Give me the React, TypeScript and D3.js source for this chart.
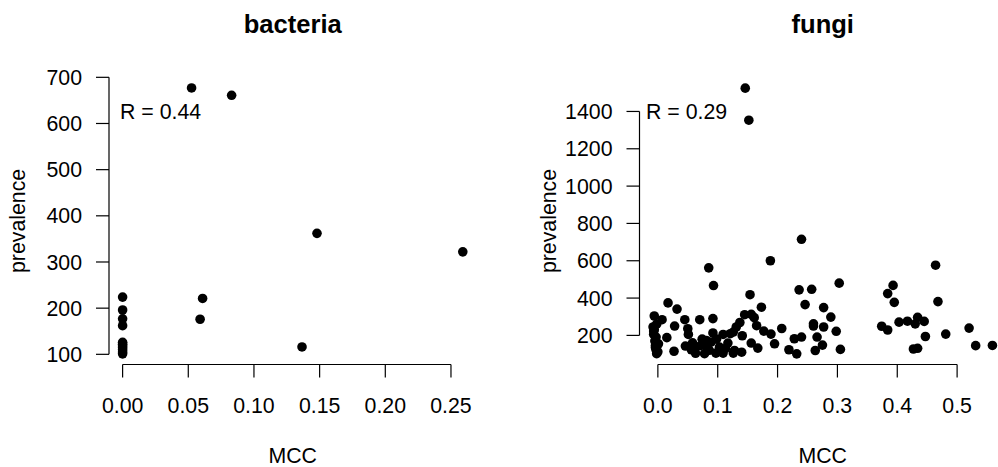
import React from "react";
import * as d3 from "d3";

// ---------- data ----------
const bacteriaMCC = [0, 0, 0, 0, 0, 0, 0, 0, 0, 0, 0, 0.0525, 0.083, 0.148, 0.0609, 0.059, 0.1366, 0.259];
const bacteriaPrev = [224, 196, 177, 162, 126, 122, 118, 114, 110, 105, 101, 677, 661, 362, 221, 176, 116, 322];

const fungiMCC = [
  0.146, 0.152, 0.240, 0.188, 0.085, 0.093, 0.464, 0.303, 0.393, 0.384, 0.395, 0.468, 0.236, 0.257, 0.154, 0.246,
  0.173, 0.277, 0.017, 0.032, 0.289, 0.145, 0.156, 0.161,
  0.260, 0.260, 0.277, 0.207, 0.165, 0.137, 0.131, 0.126, 0.109, 0.121, 0.141, 0.177, 0.189, 0.298, 0.195, 0.156,
  0.167, 0.219, 0.232, 0.228, 0.240, 0.266, 0.275, 0.263, 0.305,
  0.374, 0.384, 0.403, 0.417, 0.430, 0.434, 0.445, 0.447, 0.427, 0.434, 0.481, 0.520, 0.531, 0.559,
  -0.006, 0.007, -0.008, -0.007, -0.007, -0.003, -0.004, -0.003, -0.002, -0.005, -0.004, 0.000, 0.015, 0.028,
  0.027, 0.045, 0.050, 0.051, 0.046, 0.056, 0.063, 0.070, 0.074, 0.072, 0.078, 0.081, 0.092, 0.092, 0.089, 0.097,
  0.109, 0.117, 0.126, 0.140, 0.128, 0.103, 0.081, 0.064, 0.098, 0.086, 0.113, 0.058, -0.006, -0.002, 0.001,
];
const fungiPrev = [
  1525, 1353, 715, 600, 562, 467, 576, 480, 468, 424, 377, 381, 444, 447, 418, 365,
  351, 349, 374, 341, 298, 311, 313, 295,
  262, 250, 245, 237, 252, 269, 245, 218, 205, 209, 198, 223, 207, 222, 155, 159,
  132, 123, 101, 182, 191, 191, 148, 119, 125,
  249, 229, 271, 276, 262, 297, 275, 194, 127, 131, 207, 239, 145, 146,
  304, 284, 245, 223, 205, 191, 146, 123, 102, 170, 135, 112, 188, 250,
  115, 284, 236, 205, 143, 123, 104, 284, 180, 146, 102, 141, 290, 213, 164, 105,
  105, 159, 105, 110, 119, 137, 173, 137, 180, 120, 130, 160, 230, 260, 155,
];

const bacteriaXTicks = [0, 0.05, 0.1, 0.15, 0.2, 0.25];
const bacteriaYTicks = [100, 200, 300, 400, 500, 600, 700];
const fungiXTicks = [0, 0.1, 0.2, 0.3, 0.4, 0.5];
const fungiYTicks = [200, 400, 600, 800, 1000, 1200, 1400];

const titles = ["bacteria", "fungi"];
const rLabels = ["R = 0.44", "R = 0.29"];
const xLabel = "MCC";
const yLabel = "prevalence";

// ---------- layout ----------
const W = 998;
const H = 467;
const FONT = "'Liberation Sans', Arial, Helvetica, sans-serif";
const FS = 21.3;
const TICK = 13;

// R style 4% padded domain
function rDomain(vals: number[]): [number, number] {
  const [lo, hi] = d3.extent(vals) as [number, number];
  const pad = (hi - lo) * 0.04;
  return [lo - pad, hi + pad];
}

type PanelProps = {
  title: string;
  xs: number[];
  ys: number[];
  xTicks: number[];
  yTicks: number[];
  xFmt: string;
  rLabel: string;
  rx: number;
  left: number;
  right: number;
  top: number;
  bottom: number;
};

function Panel(p: PanelProps) {
  const x = d3.scaleLinear().domain(rDomain(p.xs)).range([p.left, p.right]);
  const y = d3.scaleLinear().domain(rDomain(p.ys)).range([p.bottom, p.top]);
  const fmt = d3.format(p.xFmt);
  const cx = (p.left + p.right) / 2;
  const cy = (p.top + p.bottom) / 2;
  const x0 = x(p.xTicks[0]);
  const x1 = x(p.xTicks[p.xTicks.length - 1]);
  const y0 = y(p.yTicks[0]);
  const y1 = y(p.yTicks[p.yTicks.length - 1]);
  return (
    <g fontFamily={FONT} fill="#000">
      <text x={cx} y={33.3} textAnchor="middle" fontWeight="bold" fontSize={FS * 1.2}>
        {p.title}
      </text>
      {/* x axis */}
      <line x1={x0} x2={x1} y1={p.bottom} y2={p.bottom} stroke="#000" strokeWidth={1.2} />
      {p.xTicks.map((t) => (
        <g key={"x" + t}>
          <line x1={x(t)} x2={x(t)} y1={p.bottom} y2={p.bottom + TICK} stroke="#000" strokeWidth={1.2} />
          <text x={x(t)} y={413} textAnchor="middle" fontSize={FS}>
            {fmt(t)}
          </text>
        </g>
      ))}
      {/* y axis */}
      <line x1={p.left} x2={p.left} y1={y0} y2={y1} stroke="#000" strokeWidth={1.2} />
      {p.yTicks.map((t) => (
        <g key={"y" + t}>
          <line x1={p.left - TICK} x2={p.left} y1={y(t)} y2={y(t)} stroke="#000" strokeWidth={1.2} />
          <text x={p.left - 27} y={y(t) + FS * 0.36} textAnchor="end" fontSize={FS}>
            {t}
          </text>
        </g>
      ))}
      <text x={cx} y={462.5} textAnchor="middle" fontSize={FS}>
        {xLabel}
      </text>
      <text
        transform={`translate(${p.left - 84},${cy}) rotate(-90)`}
        textAnchor="middle"
        fontSize={FS}
      >
        {yLabel}
      </text>
      <text x={p.rx} y={119.3} fontSize={FS}>
        {p.rLabel}
      </text>
      {p.xs.map((v, i) => (
        <circle key={i} cx={x(v)} cy={y(p.ys[i])} r={4.8} fill="#000" />
      ))}
    </g>
  );
}

export default function App() {
  return (
    <svg
      width={W}
      height={H}
      viewBox={`0 0 ${W} ${H}`}
      style={{ position: "absolute", left: 0, top: 0, background: "#fff" }}
    >
      <rect x={0} y={0} width={W} height={H} fill="#fff" />
      <Panel
        title={titles[0]}
        xs={bacteriaMCC}
        ys={bacteriaPrev}
        xTicks={bacteriaXTicks}
        yTicks={bacteriaYTicks}
        xFmt=".2f"
        rLabel={rLabels[0]}
        rx={120}
        left={109}
        right={476.4}
        top={77.3}
        bottom={364.5}
      />
      <Panel
        title={titles[1]}
        xs={fungiMCC}
        ys={fungiPrev}
        xTicks={fungiXTicks}
        yTicks={fungiYTicks}
        xFmt=".1f"
        rLabel={rLabels[1]}
        rx={646}
        left={639.5}
        right={1006}
        top={77.5}
        bottom={364.5}
      />
    </svg>
  );
}
